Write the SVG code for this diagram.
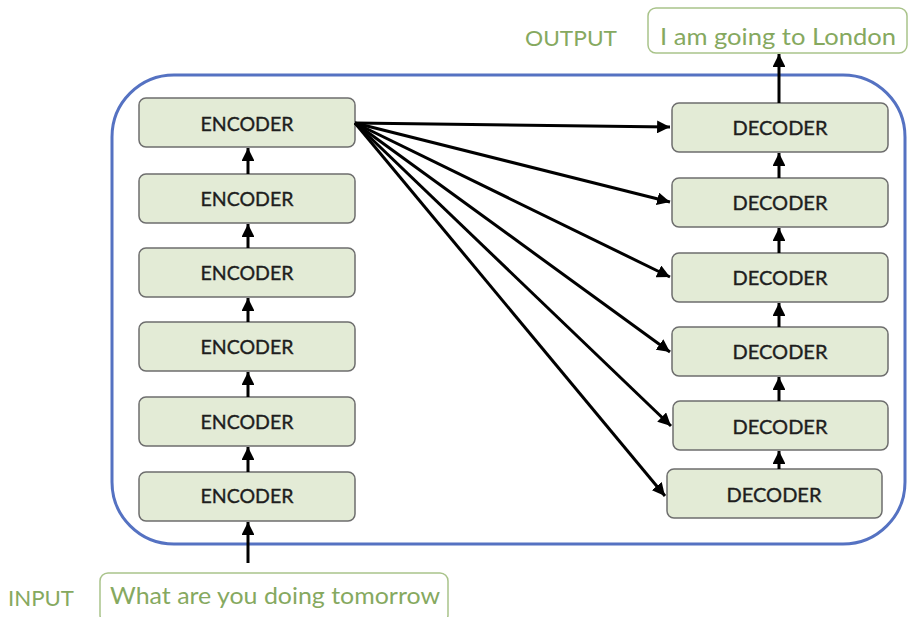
<svg xmlns="http://www.w3.org/2000/svg" width="909" height="617" viewBox="0 0 909 617">
<defs>
<marker id="ah" viewBox="0 0 10 10" refX="10" refY="5" markerWidth="4.3" markerHeight="4.3" orient="auto" markerUnits="strokeWidth">
<path d="M0,0 L10,5 L0,10 z" fill="#000"/>
</marker>
<style>
.box{fill:#e3ebd6;stroke:#6e6e6e;stroke-width:1.5}
.lbl{font-family:Lato,"Liberation Sans",sans-serif;font-size:19px;fill:#1e1e1e;stroke:#1e1e1e;stroke-width:0.35;text-anchor:middle}
.grn{font-family:Lato,"Liberation Sans",sans-serif;fill:#86a95f}
.gbox{fill:#fff;stroke:#a9c38a;stroke-width:1.5}
.c{stroke:#000;stroke-width:3;fill:none;marker-end:url(#ah)}
</style>
</defs>
<rect width="909" height="617" fill="#fff"/>
<rect x="112" y="75" width="793" height="469" rx="62" ry="62" fill="none" stroke="#5572c2" stroke-width="3"/>
<g id="output-label"><text class="grn" x="525" y="46" font-size="22" textLength="92" lengthAdjust="spacingAndGlyphs">OUTPUT</text></g>
<g id="output"><rect class="gbox" x="648" y="8" width="259" height="45" rx="8"/><text class="grn" x="778" y="45" font-size="23" text-anchor="middle" textLength="236" lengthAdjust="spacingAndGlyphs">I am going to London</text></g>
<g id="input-label"><text class="grn" x="8" y="606" font-size="22" textLength="66" lengthAdjust="spacingAndGlyphs">INPUT</text></g>
<g id="input"><rect class="gbox" x="100" y="573" width="348" height="50" rx="8"/><text class="grn" x="275" y="604" font-size="23" text-anchor="middle" textLength="330" lengthAdjust="spacingAndGlyphs">What are you doing tomorrow</text></g>
<g id="enc6"><rect class="box" x="139" y="98" width="216" height="49" rx="7"/><text class="lbl" x="247" y="131" textLength="93" lengthAdjust="spacingAndGlyphs">ENCODER</text></g>
<g id="enc5"><rect class="box" x="139" y="174" width="216" height="49" rx="7"/><text class="lbl" x="247" y="206" textLength="93" lengthAdjust="spacingAndGlyphs">ENCODER</text></g>
<g id="enc4"><rect class="box" x="139" y="248" width="216" height="49" rx="7"/><text class="lbl" x="247" y="280" textLength="93" lengthAdjust="spacingAndGlyphs">ENCODER</text></g>
<g id="enc3"><rect class="box" x="139" y="322" width="216" height="49" rx="7"/><text class="lbl" x="247" y="354" textLength="93" lengthAdjust="spacingAndGlyphs">ENCODER</text></g>
<g id="enc2"><rect class="box" x="139" y="397" width="216" height="49" rx="7"/><text class="lbl" x="247" y="429" textLength="93" lengthAdjust="spacingAndGlyphs">ENCODER</text></g>
<g id="enc1"><rect class="box" x="139" y="472" width="216" height="49" rx="7"/><text class="lbl" x="247" y="503" textLength="93" lengthAdjust="spacingAndGlyphs">ENCODER</text></g>
<g id="dec6"><rect class="box" x="672" y="103" width="216" height="49" rx="7"/><text class="lbl" x="780" y="135" textLength="95" lengthAdjust="spacingAndGlyphs">DECODER</text></g>
<g id="dec5"><rect class="box" x="672" y="178" width="216" height="49" rx="7"/><text class="lbl" x="780" y="210" textLength="95" lengthAdjust="spacingAndGlyphs">DECODER</text></g>
<g id="dec4"><rect class="box" x="672" y="253" width="216" height="49" rx="7"/><text class="lbl" x="780" y="285" textLength="95" lengthAdjust="spacingAndGlyphs">DECODER</text></g>
<g id="dec3"><rect class="box" x="672" y="327" width="216" height="49" rx="7"/><text class="lbl" x="780" y="359" textLength="95" lengthAdjust="spacingAndGlyphs">DECODER</text></g>
<g id="dec2"><rect class="box" x="673" y="401" width="215" height="49" rx="7"/><text class="lbl" x="780" y="434" textLength="95" lengthAdjust="spacingAndGlyphs">DECODER</text></g>
<g id="dec1"><rect class="box" x="667" y="469" width="215" height="49" rx="7"/><text class="lbl" x="774" y="502" textLength="95" lengthAdjust="spacingAndGlyphs">DECODER</text></g>
<g id="connectors">
<line class="c" x1="248" y1="563" x2="248" y2="522"/>
<line class="c" x1="248" y1="472" x2="248" y2="447"/>
<line class="c" x1="248" y1="397" x2="248" y2="372"/>
<line class="c" x1="248" y1="322" x2="248" y2="298"/>
<line class="c" x1="248" y1="248" x2="248" y2="224"/>
<line class="c" x1="248" y1="174" x2="248" y2="148"/>
<line class="c" x1="779" y1="469" x2="779" y2="451"/>
<line class="c" x1="779" y1="401" x2="779" y2="377"/>
<line class="c" x1="779" y1="327" x2="779" y2="303"/>
<line class="c" x1="779" y1="253" x2="779" y2="228"/>
<line class="c" x1="779" y1="178" x2="779" y2="153"/>
<line class="c" x1="779" y1="103" x2="779" y2="54"/>
<line class="c" x1="355" y1="123" x2="670" y2="127"/>
<line class="c" x1="355" y1="123" x2="670" y2="202"/>
<line class="c" x1="355" y1="123" x2="670" y2="277"/>
<line class="c" x1="355" y1="123" x2="670" y2="352"/>
<line class="c" x1="355" y1="123" x2="671" y2="426"/>
<line class="c" x1="355" y1="123" x2="665" y2="496"/>
</g>
</svg>
